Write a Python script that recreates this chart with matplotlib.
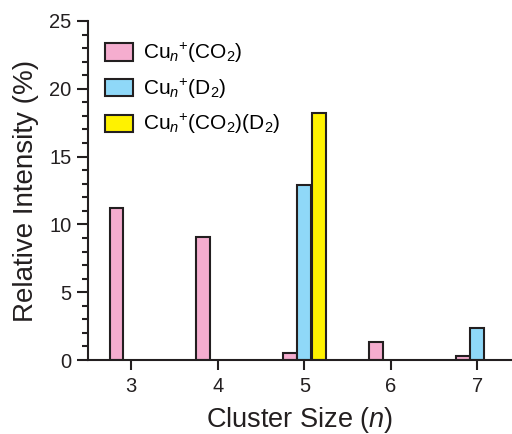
import numpy as np
import matplotlib.pyplot as plt
from matplotlib.ticker import MultipleLocator

plt.rcParams['font.family'] = ['Liberation Sans', 'DejaVu Sans']
plt.rcParams['mathtext.fontset'] = 'custom'
plt.rcParams['mathtext.rm'] = 'Liberation Sans'
plt.rcParams['mathtext.it'] = 'Liberation Sans:italic'

# --- DATA ---------------------------------------------------------------
sizes = [3, 4, 5, 6, 7]
co2 = [11.2, 9.1, 0.55, 1.3, 0.3]
d2 = [0.0, 0.0, 12.9, 0.0, 2.35]
co2_d2 = [0.0, 0.0, 18.2, 0.0, 0.0]
labels = [r'Cu$_{n}{}^{+}$(CO$_2$)', r'Cu$_{n}{}^{+}$(D$_2$)', r'Cu$_{n}{}^{+}$(CO$_2$)(D$_2$)']
# ------------------------------------------------------------------------

fig = plt.figure(figsize=(5.12, 4.34), dpi=100)
ax = fig.add_axes([88 / 512, 74 / 434, 424 / 512, 339 / 434])

x = np.array(sizes, dtype=float)
w = 0.16
edge = '#231F20'
series = [(co2, -0.17, '#F5ADCF'), (d2, 0.0, '#8FD8F8'), (co2_d2, 0.17, '#FFF200')]
for (vals, off, col), lab in zip(series, labels):
    xs = [xi + off for xi, v in zip(x, vals) if v > 0]
    vs = [v for v in vals if v > 0]
    ax.bar(xs, vs, width=w, color=col, edgecolor=edge, linewidth=1.5, label=lab, zorder=2)

ax.set_xlim(2.5, 7.4)
ax.set_ylim(0, 25)
ax.set_xticks(sizes)
ax.set_yticks([0, 5, 10, 15, 20, 25])
ax.yaxis.set_minor_locator(MultipleLocator(1))
for s in ['top', 'right']:
    ax.spines[s].set_visible(False)
for s in ['left', 'bottom']:
    ax.spines[s].set_linewidth(1.5)
    ax.spines[s].set_color(edge)
ax.tick_params(which='major', direction='out', length=8, width=1.5, labelsize=14.5,
               colors=edge, pad=4)
ax.tick_params(axis='x', which='major', length=7, pad=5)
ax.tick_params(axis='y', which='minor', direction='out', length=4, width=1.5, colors=edge)

ax.set_xlabel(r'Cluster Size ($n$)', fontsize=19.5, labelpad=7, color=edge)
ax.set_ylabel('Relative Intensity (%)', fontsize=20, labelpad=7, color=edge)

leg = ax.legend(loc='upper left', bbox_to_anchor=(0.02, 0.965), frameon=False,
                fontsize=15, handlelength=1.35, handleheight=0.9, labelspacing=0.55,
                handletextpad=0.5, borderaxespad=0.0)

fig.savefig('out.png', dpi=100)
